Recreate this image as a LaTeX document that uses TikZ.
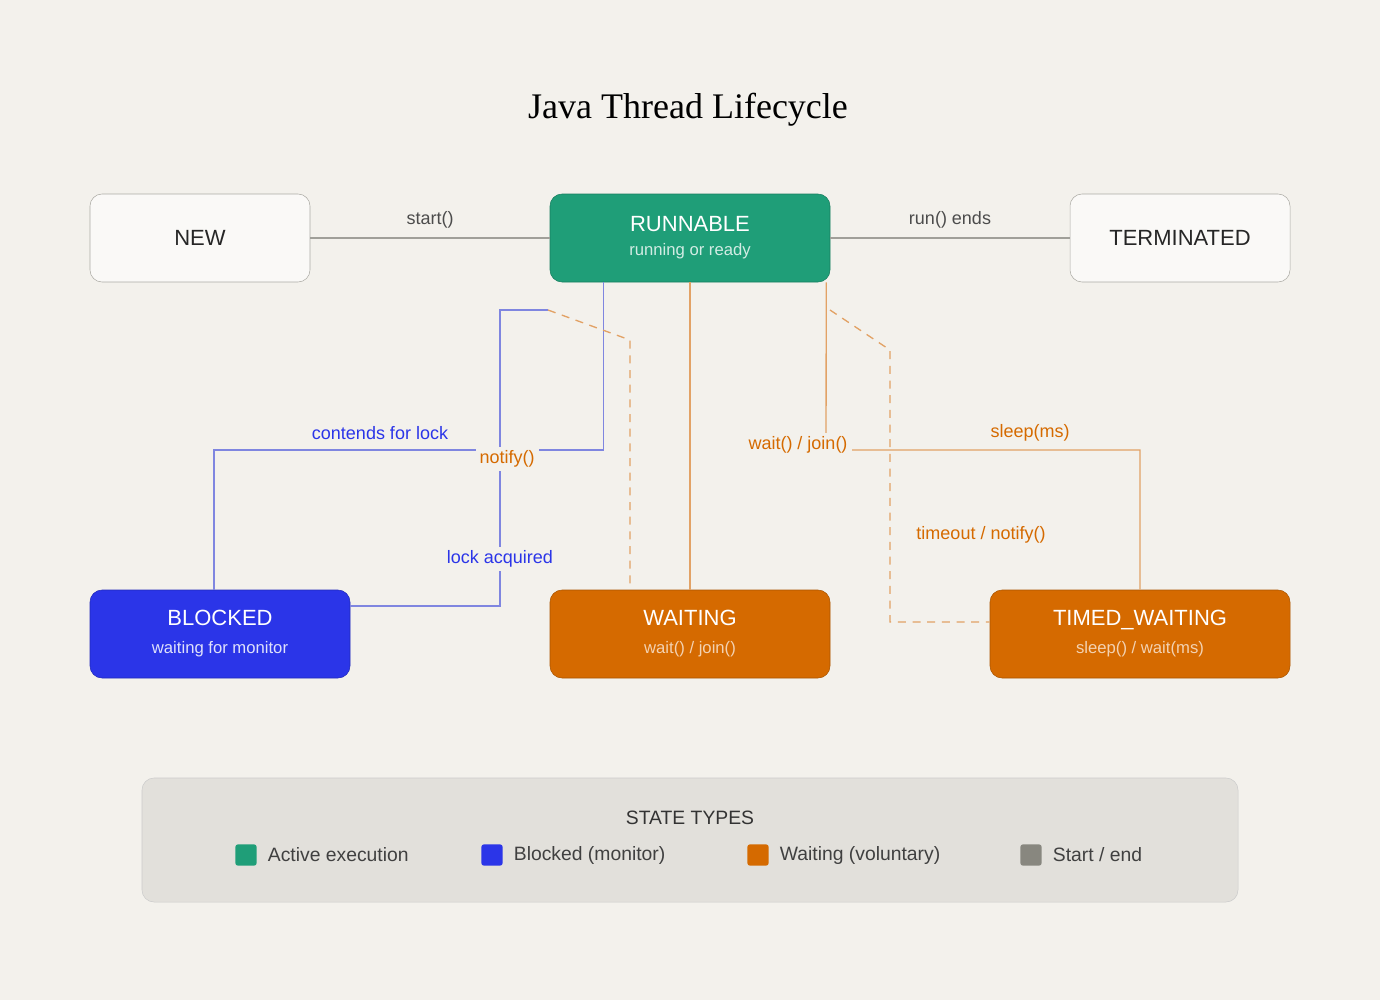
\documentclass[tikz,border=0pt]{standalone}
\usepackage{fontspec}
\setmainfont{Liberation Sans}
\newfontfamily\titlefont{Liberation Serif}
\usetikzlibrary{calc,positioning}
\newcommand\subfnt{\fontsize{12.5}{15}\selectfont}
\definecolor{bg}{HTML}{F3F1EC}
\definecolor{cgreen}{HTML}{1F9E78}
\definecolor{cblue}{HTML}{2B35E8}
\definecolor{corange}{HTML}{D56A00}
\definecolor{cgray}{HTML}{88877F}
\definecolor{lblue}{HTML}{7F86E0}
\definecolor{lorange}{HTML}{E2A266}
\begin{document}
\begin{tikzpicture}[x=0.75pt,y=-0.75pt,
 st/.style={rounded corners=9pt,minimum width=#1*0.75pt,minimum height=66pt,align=center,inner sep=0pt},
 plain/.style={st=220,draw=cgray!70,fill=white!60!bg,text=black!85,font=\fontsize{16.5}{20}\selectfont},
 colr/.style={fill=#1,draw=#1!80!black,text=white,font=\fontsize{16.5}{20}\selectfont},
 lbl/.style={fill=bg,inner sep=3pt,font=\fontsize{13.5}{16}\selectfont},
 bl/.style={draw=lblue,line width=1pt},
 ol/.style={draw=lorange,line width=1pt},
 gl/.style={draw=cgray!80,line width=1pt},
 sw/.style={minimum size=16pt,inner sep=0pt,rounded corners=2pt,fill=#1}]
\fill[bg] (0,0) rectangle (1380,1000);
\useasboundingbox (0,0) rectangle (1380,1000);
\node[font=\titlefont\fontsize{27}{32}\selectfont] (title) at (688,110) {Java Thread Lifecycle};
\node[plain] (new) at (200,238) {NEW};
\node[plain] (term) at (1180,238) {TERMINATED};
\node[st=280,colr=cgreen] (run) at (690,238) {RUNNABLE\\[-2pt]{\subfnt\color{white!80!cgreen}running or ready}};
\node[st=260,colr=cblue] (blk) at (220,634) {BLOCKED\\[1pt]{\subfnt\color{white!85!cblue}waiting for monitor}};
\node[st=280,colr=corange] (wait) at (690,634) {WAITING\\[1pt]{\subfnt\color{white!70!corange}wait() / join()}};
\node[st=300,colr=corange] (tw) at (1140,634) {TIMED\_WAITING\\[1pt]{\subfnt\color{white!70!corange}sleep() / wait(ms)}};
% gray
\draw[gl] (new.east) -- (run.west) node[pos=0.5,above=4pt,lbl,fill=none,text=black!70] (l1) {start()};
\draw[gl] (run.east) -- (term.west) node[pos=0.5,above=4pt,lbl,fill=none,text=black!70] (l2) {run() ends};
% blue contends
\draw[bl] ($(run.south west)+(54,0)$) |- (214,450) -- (blk.north -| 214,0);
\node[lbl,text=cblue] (l3) at (380,433) {contends for lock};
% blue lock acquired
\coordinate (c1) at (548,310);
\draw[bl] (blk.east |- 0,606) -| (500,310) -- (c1);
\draw[ol,dash pattern=on 6pt off 5pt] (c1) -- (630,340) -- (wait.north -| 630,0);
\node[lbl,text=cblue] (l4) at (500,559) {lock acquired};
\node[lbl,text=corange] (l5) at (507,459) {notify()};
% orange solid
\draw[ol] (run.south) -- (wait.north);
\draw[ol] ($(run.south east)+(-4,0)$) -- (826,450) -- (1140,450) -- (tw.north);
\node[lbl,text=corange] (l6) at (798,445) {wait() / join()};
\node[lbl,text=corange,fill=none] (l7) at (1030,433) {sleep(ms)};
% dashed timed
\coordinate (c2) at (830,310);
\draw[ol,dash pattern=on 6pt off 5pt] (c2) -- (890,350) -- (890,622) -- (tw.west |- 0,622);
\node[lbl,text=corange] (l8) at (981,535) {timeout / notify()};
% legend
\draw[draw=black!20,fill=black!7!bg,rounded corners=9pt] (142,778) rectangle (1238,902);
\node[font=\fontsize{14.5}{17}\selectfont,text=black!80] (lt) at (690,818) {STATE TYPES};
\node[sw=cgreen] (s1) at (246,855) {};
\node[right=8pt of s1,font=\fontsize{14.5}{17}\selectfont,text=black!75,inner sep=0pt] (t1) {Active execution};
\node[sw=cblue] (s2) at (492,855) {};
\node[right=8pt of s2,font=\fontsize{14.5}{17}\selectfont,text=black!75,inner sep=0pt] (t2) {Blocked (monitor)};
\node[sw=corange] (s3) at (758,855) {};
\node[right=8pt of s3,font=\fontsize{14.5}{17}\selectfont,text=black!75,inner sep=0pt] (t3) {Waiting (voluntary)};
\node[sw=cgray] (s4) at (1031,855) {};
\node[right=8pt of s4,font=\fontsize{14.5}{17}\selectfont,text=black!75,inner sep=0pt] (t4) {Start / end};
\end{tikzpicture}
\end{document}
